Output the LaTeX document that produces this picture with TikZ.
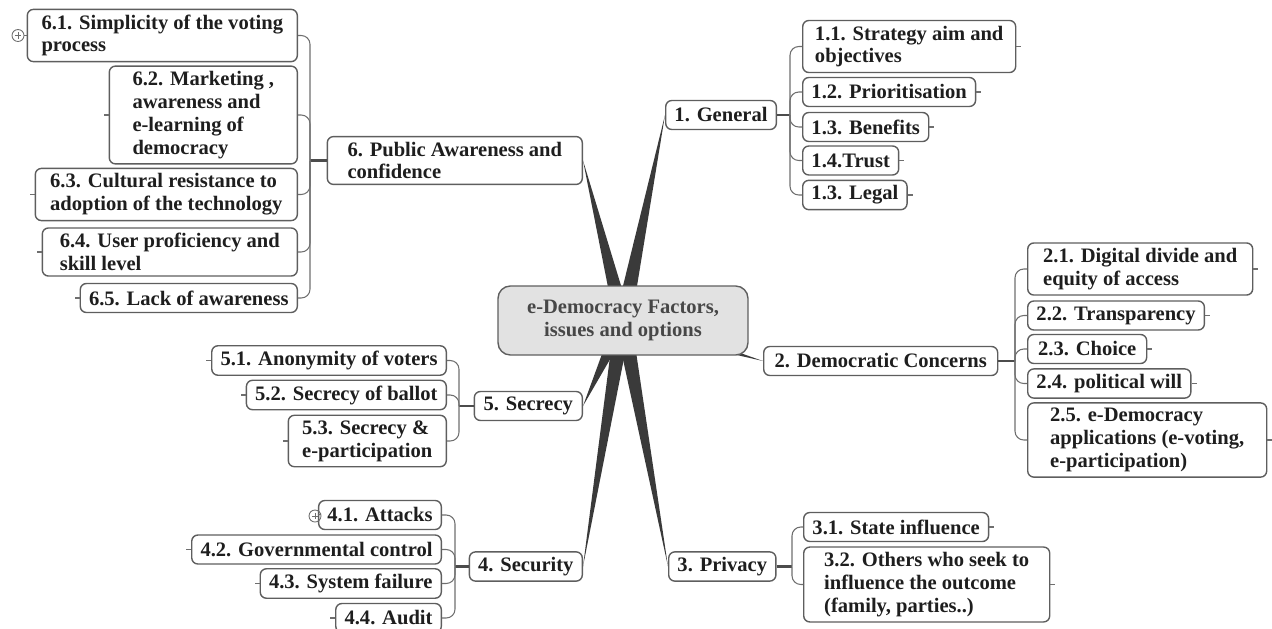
\documentclass[tikz,border=0pt]{standalone}
\usepackage{fontspec}
\setmainfont{Liberation Serif}
\usetikzlibrary{calc,backgrounds}
\definecolor{boxline}{HTML}{5E5E5E}
\definecolor{linegray}{HTML}{6E6E6E}
\definecolor{spokegray}{HTML}{3A3A3A}
\definecolor{corefill}{HTML}{E2E2E2}
\definecolor{txt}{HTML}{1E1E1E}
\def\spoke(#1){\fill[spoke] ($(ctr)!4.7pt!90:(#1)$) -- (#1) -- ($(ctr)!4.7pt!-90:(#1)$) -- cycle;}
\tikzset{
  topic/.style={draw=boxline, fill=white, rounded corners=3.5pt, line width=.8pt,
    inner xsep=5pt, inner ysep=3pt, align=left, text=txt, minimum height=.58cm,
    font=\fontsize{11.7}{13}\selectfont\bfseries},
  leaf/.style={topic, minimum width=#1*0.02cm},
  core/.style={topic, fill=corefill, rounded corners=7pt, align=center, text=black!72,
    minimum width=5cm, minimum height=1.38cm},
  branch/.style={draw=linegray, line width=.6pt, rounded corners=5pt},
  stub/.style={draw=black!70, line width=1.3pt},
  spoke/.style={fill=spokegray},
  expander/.style={circle, draw=linegray, line width=.5pt, minimum size=.24cm, inner sep=0pt,
    path picture={\draw[linegray, line width=.5pt]
      ([yshift=-1.6pt]path picture bounding box.north) -- ([yshift=1.6pt]path picture bounding box.south)
      ([xshift=1.6pt]path picture bounding box.west) -- ([xshift=-1.6pt]path picture bounding box.east);}}
}
\begin{document}
\begin{tikzpicture}[x=0.02cm,y=-0.02cm] %pixel grid of the mind map
\useasboundingbox (0,0) rectangle (1272,629);

\node (ctr) [core] at (623,320.5) {e-Democracy Factors,\\issues and options};

\node (gen) [leaf=108,anchor=west] at (665,115) {1. General};
\node (g1) [leaf=213,anchor=west] at (802,46.5) {1.1. Strategy aim and\\objectives};
\node (g2) [leaf=163,anchor=west] at (802,92) {1.2. Prioritisation};
\node (g3) [leaf=124,anchor=west] at (802,127) {1.3. Benefits};
\node (g4) [leaf=95,anchor=west] at (802,160.5) {1.4.Trust};
\node (g5) [leaf=101,anchor=west] at (802,195) {1.3. Legal};

\node (dem) [leaf=234,anchor=west] at (763,361) {2. Democratic Concerns};
\node (d1) [leaf=225,anchor=west] at (1027,269) {2.1. Digital divide and\\equity of access};
\node (d2) [leaf=174,anchor=west] at (1027,315.5) {2.2. Transparency};
\node (d3) [leaf=119,anchor=west] at (1027,349) {2.3. Choice};
\node (d4) [leaf=161,anchor=west] at (1027,383.5) {2.4. political will};
\node (d5) [leaf=239,anchor=west] at (1027,440) {2.5. e-Democracy\\applications (e-voting,\\e-participation)};

\node (pri) [leaf=106,anchor=west] at (668,566.5) {3. Privacy};
\node (p1) [leaf=183,anchor=west] at (803,527) {3.1. State influence};
\node (p2) [leaf=246,anchor=west] at (803,584.5) {3.2. Others who seek to\\influence the outcome\\(family, parties..)};

\node (sec) [leaf=112,anchor=east] at (583,566.5) {4. Security};
\node (u1) [leaf=116,anchor=east] at (442,515) {4.1. Attacks};
\node (u2) [leaf=245,anchor=east] at (442,549.5) {4.2. Governmental control};
\node (u3) [leaf=177,anchor=east] at (442,583.5) {4.3. System failure};
\node (u4) [leaf=101,anchor=east] at (442,618) {4.4. Audit};

\node (scr) [leaf=108,anchor=east] at (583,406) {5. Secrecy};
\node (s1) [leaf=230,anchor=east] at (447,360.5) {5.1. Anonymity of voters};
\node (s2) [leaf=199,anchor=east] at (447,395) {5.2. Secrecy of ballot};
\node (s3) [leaf=158,anchor=east] at (447,441) {5.3. Secrecy \&\\e-participation};

\node (pub) [leaf=255,anchor=east] at (583,160.5) {6. Public Awareness and\\confidence};
\node (a1) [leaf=270,anchor=east] at (298,35.5) {6.1. Simplicity of the voting\\process};
\node (a2) [leaf=188,anchor=east] at (298,115) {6.2. Marketing ,\\awareness and\\e-learning of\\democracy};
\node (a3) [leaf=262,anchor=east] at (298,194.5) {6.3. Cultural resistance to\\adoption of the technology};
\node (a4) [leaf=255,anchor=east] at (298,252) {6.4. User proficiency and\\skill level};
\node (a5) [leaf=214,anchor=east] at (298,298) {6.5. Lack of awareness};

\node (a1x) [expander] at (18,35.5) {};
\node (u1x) [expander] at (315,516) {};

\coordinate (genf) at (790,115);
\coordinate (demf) at (1015,361);
\coordinate (prif) at (792,566.5);
\coordinate (secf) at (455,566.5);
\coordinate (scrf) at (459,406);
\coordinate (pubf) at (310,160.5);

\begin{scope}[on background layer]
\spoke(gen.west)
\spoke(dem.west)
\spoke(pri.west)
\spoke(sec.east)
\spoke(scr.east)
\spoke(pub.east)
\end{scope}

\draw[stub] (gen.east)--(genf);
\draw[stub] (dem.east)--(demf);
\draw[stub] (pri.east)--(prif);
\draw[stub] (sec.west)--(secf);
\draw[stub] (scr.west)--(scrf);
\draw[stub] (pub.west)--(pubf);

\foreach \c in {g1,g2,g3,g4,g5} \draw[branch] (genf) |- (\c.west);
\foreach \c in {d1,d2,d3,d4,d5} \draw[branch] (demf) |- (\c.west);
\foreach \c in {p1,p2} \draw[branch] (prif) |- (\c.west);
\foreach \c in {u1,u2,u3,u4} \draw[branch] (secf) |- (\c.east);
\foreach \c in {s1,s2,s3} \draw[branch] (scrf) |- (\c.east);
\foreach \c in {a1,a2,a3,a4,a5} \draw[branch] (pubf) |- (\c.east);

\foreach \c in {g1,g2,g3,g4,g5,d1,d2,d3,d4,d5,p1,p2} \draw[branch] (\c.east) -- ++(5,0);
\foreach \c in {u2,u3,u4,s1,s2,s3,a2,a3,a4,a5} \draw[branch] (\c.west) -- ++(-5,0);
\draw[branch] (a1x) -- (a1.west);
\draw[branch] (u1x) -- (u1.west);
\end{tikzpicture}
\end{document}
